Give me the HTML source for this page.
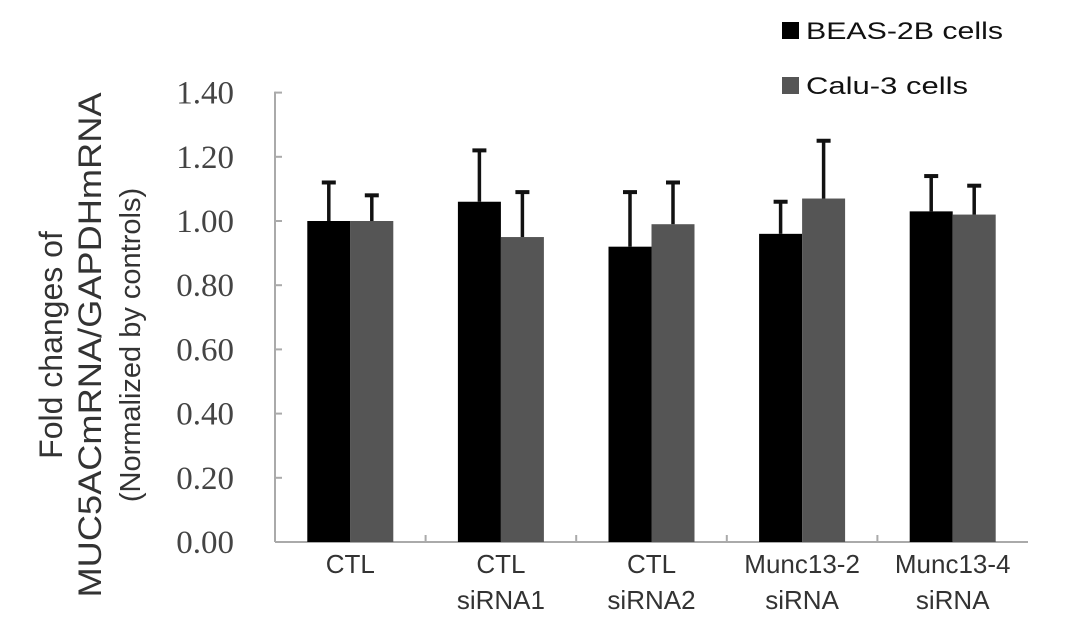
<!DOCTYPE html>
<html><head><meta charset="utf-8"><style>
body{margin:0;background:#fff;}
svg{display:block;}
</style></head><body>
<svg id="chart" width="1087" height="626" xmlns="http://www.w3.org/2000/svg">
<g id="axes"></g><g id="bars"></g>
<g transform="translate(62,345) rotate(-90)" font-family="Liberation Sans, sans-serif" font-size="32" fill="#333" text-anchor="middle">
<text x="0" y="0">Fold changes of</text>
<text x="0" y="39" textLength="505" lengthAdjust="spacingAndGlyphs">MUC5ACmRNA/GAPDHmRNA</text>
<text x="0" y="78" font-size="29">(Normalized by controls)</text>
</g>
<g font-family="Liberation Sans, sans-serif" font-size="24" fill="#111">
<rect x="782" y="22" width="17" height="17" fill="#000"/>
<text x="806" y="39" textLength="197" lengthAdjust="spacingAndGlyphs">BEAS-2B cells</text>
<rect x="782" y="77" width="17" height="17" fill="#555"/>
<text x="806" y="94" textLength="162" lengthAdjust="spacingAndGlyphs">Calu-3 cells</text>
</g>
</svg>
<script>
const categories=[["CTL"],["CTL","siRNA1"],["CTL","siRNA2"],["Munc13-2","siRNA"],["Munc13-4","siRNA"]];
const beas=[1.00,1.06,0.92,0.96,1.03];
const beasErr=[0.12,0.16,0.17,0.10,0.11];
const calu=[1.00,0.95,0.99,1.07,1.02];
const caluErr=[0.08,0.14,0.13,0.18,0.09];
const yTicks=[0,0.2,0.4,0.6,0.8,1.0,1.2,1.4];
const yTickLabels=["0.00","0.20","0.40","0.60","0.80","1.00","1.20","1.40"];
const NS="http://www.w3.org/2000/svg";
const x0=275,x1=1028,y0=542,yTop=92.6,yMax=1.4;
const y=v=>y0-(v/yMax)*(y0-yTop);
const gw=(x1-x0)/categories.length;
const gx=i=>x0+gw*(i+0.5);
const bw=43;
function mk(tag,attrs,parent){const e=document.createElementNS(NS,tag);for(const k in attrs)e.setAttribute(k,attrs[k]);parent.appendChild(e);return e;}
const axes=document.getElementById('axes'),bars=document.getElementById('bars');
let a=mk('line',{x1:x0,y1:yTop-1,x2:x0,y2:y0,stroke:'#aaa','stroke-width':2},axes);


a=mk('line',{x1:x0,y1:y0,x2:x1,y2:y0,stroke:'#aaa','stroke-width':2},axes);


yTicks.forEach((v,i)=>{
 const t=mk('line',{x1:x0,y1:y(v),x2:x0+7,y2:y(v),stroke:'#aaa','stroke-width':2},axes);
 
 
 const l=mk('text',{x:234,y:y(v)+11,'text-anchor':'end','font-family':'Liberation Serif, serif','font-size':33,fill:'#444'},axes);
 l.textContent=yTickLabels[i];
 
 
});
for(let i=1;i<categories.length;i++){
 const t=mk('line',{x1:x0+gw*i,y1:y0,x2:x0+gw*i,y2:y0-7,stroke:'#aaa','stroke-width':2},axes);
 
 
}
categories.forEach((c,i)=>{
 c.forEach((s,j)=>{
  const l=mk('text',{x:gx(i),y:573+j*36,'text-anchor':'middle','font-family':'Liberation Sans, sans-serif','font-size':26,fill:'#333'},axes);
  l.textContent=s;
  
  
 });
});
function drawBar(v,e,cx,fill,name){
 const r=mk('rect',{x:cx-bw/2,y:y(v),width:bw,height:y0-y(v),fill:fill},bars);
 
 
 const el=mk('line',{x1:cx,y1:y(v),x2:cx,y2:y(v+e),stroke:'#111','stroke-width':3.5},bars);
 
 
 const cap=mk('line',{x1:cx-7,y1:y(v+e),x2:cx+7,y2:y(v+e),stroke:'#111','stroke-width':4},bars);
 
 
}
categories.forEach((c,i)=>{
 drawBar(beas[i],beasErr[i],gx(i)-bw/2,'#000','bar-beas');
 drawBar(calu[i],caluErr[i],gx(i)+bw/2,'#555','bar-calu');
});
</script>
</body></html>
